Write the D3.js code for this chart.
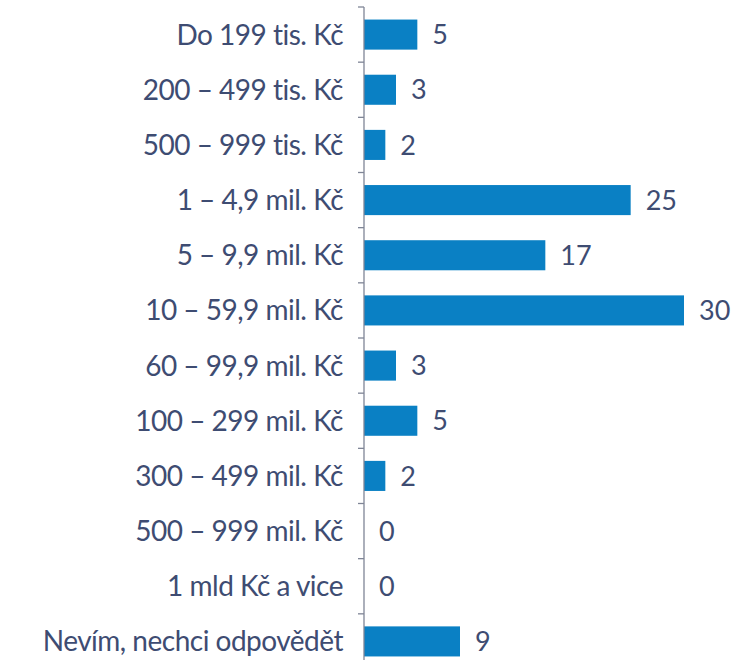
<!DOCTYPE html>
<html>
<head>
<meta charset="utf-8">
<script src="https://cdn.jsdelivr.net/npm/d3@7"></script>
<style>
  body { margin: 0; background: #fff; }
  svg text { font-family: Lato, "Open Sans", sans-serif; }
</style>
</head>
<body>
<svg class="bar_svg" width="741" height="660"></svg>
<script>
// categories and values, top to bottom
const categories = [
    "Do 199 tis. Kč",
    "200 – 499 tis. Kč",
    "500 – 999 tis. Kč",
    "1 – 4,9 mil. Kč",
    "5 – 9,9 mil. Kč",
    "10 – 59,9 mil. Kč",
    "60 – 99,9 mil. Kč",
    "100 – 299 mil. Kč",
    "300 – 499 mil. Kč",
    "500 – 999 mil. Kč",
    "1 mld Kč a vice",
    "Nevím, nechci odpovědět"
]
const values = [5, 3, 2, 25, 17, 30, 3, 5, 2, 0, 0, 9]

const svg = d3.select("svg.bar_svg")
const margin = { top: 7, left: 364 }
const textColor = "#3e4c72"

const x = d3.scaleLinear()
    .domain([0, 30])
    .range([0, 320])

const y = d3.scaleBand()
    .domain(categories)
    .range([0, 662])
    .paddingInner(0.455)
    .paddingOuter(0.2275)

const g = svg.append("g")
    .attr("transform", `translate(${margin.left},${margin.top})`)

// bars
g.selectAll("rect")
    .data(values)
    .join("rect")
    .attr("x", 0)
    .attr("y", (d, i) => y(categories[i]))
    .attr("width", d => x(d))
    .attr("height", y.bandwidth())
    .attr("fill", "#0a80c4")

// value labels
g.selectAll("text.val")
    .data(values)
    .join("text")
    .attr("class", "val")
    .attr("x", d => x(d) + 15)
    .attr("y", (d, i) => y(categories[i]) + y.bandwidth() / 2)
    .attr("dy", "0.36em")
    .attr("font-size", 27)
    .attr("fill", textColor)
    .text(d => d)

// axis line with ticks between categories
const boundaries = d3.range(categories.length + 1).map(i => y.step() * i)
g.append("line")
    .attr("x1", 0).attr("x2", 0)
    .attr("y1", 0).attr("y2", 662)
    .attr("stroke", "#7f8596")
    .attr("stroke-width", 1.3)
g.selectAll("line.tick")
    .data(boundaries)
    .join("line")
    .attr("class", "tick")
    .attr("x1", -6).attr("x2", 0)
    .attr("y1", d => d).attr("y2", d => d)
    .attr("stroke", "#7f8596")
    .attr("stroke-width", 1.3)

// category labels
g.selectAll("text.cat")
    .data(categories)
    .join("text")
    .attr("class", "cat")
    .attr("x", -21)
    .attr("y", d => y(d) + y.bandwidth() / 2)
    .attr("dy", "0.36em")
    .attr("text-anchor", "end")
    .attr("font-size", 28)
    .attr("letter-spacing", -0.5)
    .attr("fill", textColor)
    .text(d => d)
</script>
</body>
</html>
